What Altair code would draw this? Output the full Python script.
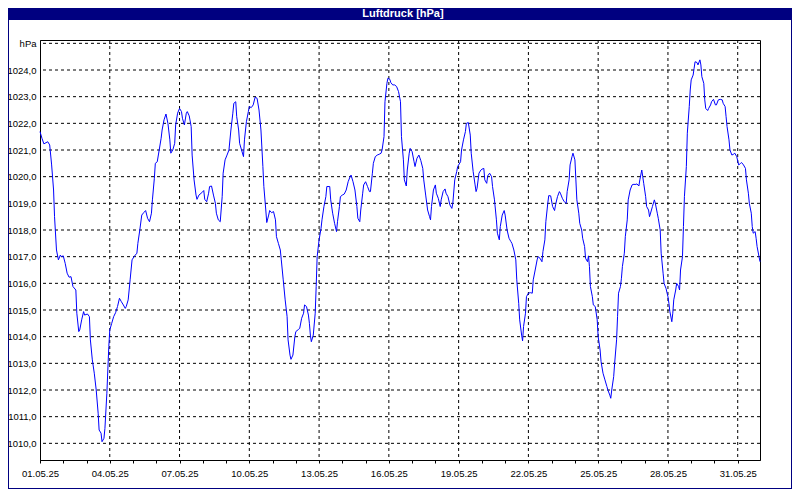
import altair as alt
import pandas as pd

# ---------------- data (hours since 01.05.2025 00:00, pressure in hPa) ----------------
hours_a = [0, 2, 4, 8, 10, 12, 14, 15, 17, 19, 21, 22, 24, 26, 28, 30, 32, 34, 37, 38,
           40, 41, 43, 45, 46, 49, 51, 52, 54, 56, 58, 60, 61, 63, 64, 66, 67, 69, 71, 72,
           74, 76, 78, 80, 82, 84, 86, 88, 89, 91, 93, 95, 97, 100, 101, 103, 105, 107, 109, 111,
           113, 115, 116, 118, 119, 121, 123, 125, 126, 128, 130, 132, 134, 135, 137, 139, 140, 142, 144, 146,
           147, 149, 151, 152, 154, 156, 157, 159, 161, 162, 164, 167, 169, 170, 172, 174, 175, 177, 179, 181,
           182, 184, 186]
hpa_a = [1021.69, 1021.44, 1021.23, 1021.31, 1021.19, 1020.44, 1019.5, 1018.5, 1017.25, 1016.88,
         1017.06, 1017.0, 1017.03, 1016.75, 1016.38, 1016.23, 1016.25, 1015.88, 1015.75, 1014.88,
         1014.19, 1014.25, 1014.63, 1014.94, 1014.81, 1014.85, 1014.75, 1013.88, 1013.13, 1012.63,
         1012.0, 1011.13, 1010.5, 1010.38, 1010.06, 1010.19, 1010.56, 1011.88, 1013.63, 1014.25,
         1014.5, 1014.75, 1014.9, 1015.13, 1015.44, 1015.31, 1015.19, 1015.06, 1015.13, 1015.38,
         1016.13, 1016.88, 1017.0, 1017.13, 1017.5, 1018.0, 1018.56, 1018.65, 1018.73, 1018.44,
         1018.31, 1018.63, 1019.13, 1019.94, 1020.5, 1020.56, 1021.0, 1021.44, 1021.75, 1022.13,
         1022.35, 1022.0, 1021.38, 1020.88, 1021.0, 1021.25, 1021.94, 1022.38, 1022.56, 1022.44,
         1022.19, 1021.94, 1022.38, 1022.44, 1022.28, 1021.88, 1020.81, 1019.88, 1019.31, 1019.15,
         1019.31, 1019.4, 1019.48, 1019.15, 1019.06, 1019.38, 1019.63, 1019.65, 1019.31, 1019.0,
         1018.63, 1018.38, 1018.31]

hours_b = [188, 189, 191, 193, 195, 197, 199, 200, 202, 203, 205, 206, 208, 210, 211, 213, 215, 216, 218, 220,
           222, 224, 226, 228, 230, 231, 233, 234, 236, 237, 239, 241, 243, 244, 246, 248, 249, 251, 253, 255,
           256, 258, 259, 261, 263, 264, 267, 268, 270, 272, 273, 275, 277, 278, 279, 280, 282, 284, 285, 286,
           288, 290, 291, 293, 295, 296, 299, 300, 302, 304, 306, 307, 309, 310, 312, 314, 316, 318, 320, 321,
           323, 325, 327, 328, 330, 331, 333, 334, 336, 338, 340, 341, 343, 344, 346, 348, 350, 352, 353, 355,
           356, 358, 359, 361, 362, 364, 366, 368, 370, 372]
hpa_b = [1019.25, 1020.13, 1020.63, 1020.81, 1021.0, 1021.75, 1022.38, 1022.75, 1022.81, 1022.25,
         1021.75, 1021.25, 1021.0, 1020.75, 1021.38, 1022.06, 1022.44, 1022.63, 1022.59, 1022.69,
         1022.98, 1022.94, 1022.5, 1021.75, 1020.38, 1019.63, 1018.75, 1018.28, 1018.56, 1018.73,
         1018.65, 1018.69, 1018.38, 1017.75, 1017.5, 1017.25, 1016.88, 1016.13, 1015.38, 1014.75,
         1013.88, 1013.31, 1013.15, 1013.31, 1014.0, 1014.19, 1014.28, 1014.31, 1014.69, 1014.88,
         1015.19, 1015.13, 1014.81, 1014.5, 1014.06, 1013.81, 1014.06, 1014.88, 1015.88, 1017.0,
         1017.63, 1018.06, 1018.38, 1018.88, 1019.25, 1019.63, 1019.63, 1019.13, 1018.63, 1018.25,
         1017.94, 1018.31, 1018.88, 1019.25, 1019.31, 1019.35, 1019.5, 1019.81, 1020.0, 1020.06,
         1019.81, 1019.5, 1018.88, 1018.44, 1018.31, 1018.75, 1019.38, 1019.69, 1019.81, 1019.63,
         1019.44, 1019.44, 1020.13, 1020.5, 1020.75, 1020.81, 1020.84, 1020.88, 1021.0, 1021.5,
         1022.81, 1023.5, 1023.69, 1023.65, 1023.53, 1023.44, 1023.44, 1023.38, 1023.19, 1022.81]

hours_c = [373, 375, 376, 378, 379, 381, 382, 384, 386, 387, 389, 391, 393, 395, 396, 398, 400, 402, 403, 404,
           406, 408, 409, 411, 413, 414, 416, 418, 419, 421, 423, 425, 426, 428, 430, 431, 434, 435, 437, 439,
           440, 442, 444, 445, 447, 449, 450, 451, 453, 455, 456, 458, 459, 461, 462, 464, 466, 467, 469, 471,
           472, 474, 475, 477, 479, 480, 482, 484, 486, 487, 489, 491, 492, 494, 495, 497, 498, 499, 501, 502,
           504, 506, 508, 509, 511, 513, 514, 516, 518, 519, 521, 522, 524, 525, 527, 529, 531, 532, 534, 536,
           537, 539, 541, 543, 544, 546, 547, 549, 550, 552, 553, 554, 556, 557]
hpa_c = [1021.5, 1020.63, 1019.88, 1019.65, 1020.25, 1020.88, 1021.06, 1020.94, 1020.56, 1020.38,
         1020.69, 1020.81, 1020.6, 1020.31, 1019.88, 1019.31, 1018.75, 1018.5, 1018.38, 1018.88,
         1019.5, 1019.69, 1019.38, 1019.19, 1018.88, 1019.13, 1019.44, 1019.54, 1019.38, 1019.25,
         1018.94, 1018.81, 1019.0, 1019.88, 1020.19, 1020.38, 1020.56, 1021.0, 1021.38, 1021.69,
         1022.0, 1022.03, 1021.56, 1020.88, 1020.19, 1019.69, 1019.44, 1019.56, 1020.13, 1020.25,
         1020.28, 1020.31, 1019.88, 1019.75, 1020.03, 1020.13, 1020.0, 1019.63, 1019.13, 1018.38,
         1017.88, 1017.63, 1018.13, 1018.56, 1018.73, 1018.56, 1018.0, 1017.69, 1017.56, 1017.5,
         1017.25, 1016.88, 1016.13, 1015.25, 1014.63, 1014.06, 1013.84, 1014.38, 1014.88, 1015.5,
         1015.63, 1015.65, 1015.63, 1016.13, 1016.5, 1016.88, 1017.0, 1016.94, 1016.81, 1017.19,
         1017.63, 1018.31, 1019.0, 1019.29, 1019.28, 1018.88, 1018.73, 1018.94, 1019.25, 1019.44,
         1019.38, 1019.19, 1019.06, 1019.0, 1019.44, 1019.88, 1020.44, 1020.75, 1020.88, 1020.63,
         1019.88, 1019.13, 1018.63, 1018.25]

hours_d = [559, 560, 562, 563, 565, 566, 567, 568, 570, 571, 573, 575, 576, 578, 579, 581, 583, 585, 586, 588,
           589, 590, 592, 593, 595, 596, 597, 599, 600, 601, 603, 604, 606, 607, 609, 611, 612, 615, 616, 618,
           619, 621, 622, 623, 625, 626, 628, 629, 631, 632, 634, 635, 637, 638, 640, 641, 643, 644, 646, 648,
           649, 650, 652, 653, 654, 656, 657, 659, 660, 661, 663, 664, 665, 667, 668, 670, 671, 672, 674, 675,
           676, 678, 679, 681, 682, 683, 685, 686, 687, 689, 690, 692, 693, 695, 697, 698, 700, 702, 704, 705,
           707, 708, 709, 711, 712, 714, 716, 717, 719, 721, 723, 724, 726, 728, 729, 731, 732, 734, 735, 736,
           738, 739, 740, 742, 743]
hpa_d = [1018.0, 1017.69, 1017.38, 1016.94, 1016.81, 1017.03, 1016.63, 1015.88, 1015.5, 1015.19,
         1015.13, 1014.63, 1014.0, 1013.5, 1013.06, 1012.63, 1012.38, 1012.13, 1012.0, 1011.81,
         1011.69, 1012.0, 1012.5, 1013.0, 1013.88, 1014.75, 1015.63, 1015.88, 1016.19, 1016.63,
         1017.13, 1017.75, 1018.38, 1019.13, 1019.5, 1019.69, 1019.71, 1019.71, 1019.73, 1019.65,
         1019.88, 1020.25, 1020.0, 1019.75, 1019.25, 1018.88, 1018.75, 1018.5, 1018.75, 1018.88,
         1019.13, 1019.0, 1018.63, 1018.44, 1018.0, 1017.13, 1016.38, 1016.0, 1015.81, 1015.5,
         1015.25, 1014.94, 1014.56, 1014.88, 1015.38, 1015.75, 1016.0, 1015.88, 1015.75, 1016.5,
         1017.0, 1018.13, 1019.25, 1020.38, 1021.63, 1022.63, 1023.25, 1023.63, 1023.81, 1024.06,
         1024.31, 1024.28, 1024.19, 1024.38, 1024.19, 1023.75, 1023.5, 1022.88, 1022.56, 1022.48,
         1022.56, 1022.69, 1022.81, 1022.9, 1022.69, 1022.69, 1022.88, 1022.9, 1022.88, 1022.75,
         1022.63, 1022.25, 1021.88, 1021.38, 1021.0, 1020.81, 1020.85, 1020.88, 1020.75, 1020.44,
         1020.5, 1020.53, 1020.44, 1020.31, 1019.88, 1019.38, 1019.0, 1018.63, 1018.13, 1017.88,
         1017.94, 1017.69, 1017.38, 1017.0, 1016.81]

title_text = "Luftdruck [hPa]"
y_ticks = list(range(1010, 1026))          # 1010 ... 1025 (top one labelled "hPa")
grid_days = [4, 7, 10, 13, 16, 19, 22, 25, 28, 31]
tick_days = list(range(1, 32))

# ---------------- build tables ----------------
hours = hours_a + hours_b + hours_c + hours_d
hpa = hpa_a + hpa_b + hpa_c + hpa_d
start = pd.Timestamp("2025-05-01 00:00")
df = pd.DataFrame({
    "zeit": start + pd.to_timedelta(hours, unit="h"),
    "hpa": hpa,
    "idx": range(len(hours)),
})
grid_x = pd.DataFrame({"zeit": [pd.Timestamp(2025, 5, d) for d in grid_days]})
grid_y = pd.DataFrame({"v": y_ticks})
one = pd.DataFrame({"a": [0]})

NAVY = "#000080"
FONT = "Liberation Sans"

x_scale = alt.Scale(domain=[alt.DateTime(year=2025, month=5, date=1, hours=0),
                            alt.DateTime(year=2025, month=5, date=31, hours=23)])
y_scale = alt.Scale(domain=[1009.375, 1025.125], nice=False, zero=False)

x_axis = alt.Axis(
    values=[alt.DateTime(year=2025, month=5, date=d) for d in tick_days],
    labelExpr="(date(datum.value) - 1) % 3 == 0 ? timeFormat(datum.value, '%d.%m.%y') : ''",
    grid=False, ticks=True, tickSize=3, tickColor="black", domainColor="black",
    labelFont=FONT, labelFontSize=9.5, labelColor="black", labelPadding=5,
    labelAngle=0, labelOverlap=False, labelFlush=False, title=None,
)
y_axis = alt.Axis(
    values=y_ticks,
    labelExpr="datum.value == 1025 ? 'hPa' : replace(format(datum.value, '.1f'), '.', ',')",
    grid=False, ticks=False, domainColor="black", labelPadding=4,
    labelFont=FONT, labelFontSize=9.5, labelColor="black", title=None,
)

vgrid = alt.Chart(grid_x).mark_rule(color="black", strokeDash=[3, 3], strokeWidth=1).encode(
    x=alt.X("zeit:T", scale=x_scale, axis=x_axis)
)
hgrid = alt.Chart(grid_y).mark_rule(color="black", strokeDash=[3, 3], strokeWidth=1).encode(
    y=alt.Y("v:Q", scale=y_scale, axis=y_axis)
)
line = alt.Chart(df).mark_line(color="#0000FF", strokeWidth=1).encode(
    x=alt.X("zeit:T", scale=x_scale, axis=x_axis),
    y=alt.Y("hpa:Q", scale=y_scale, axis=y_axis),
    order="idx:Q",
)

title_bar = alt.Chart(one).mark_rect(color=NAVY).encode(
    x=alt.value(-32), x2=alt.value(752), y=alt.value(-32), y2=alt.value(-20)
)
title = alt.Chart(one).mark_text(
    text=title_text, color="white", font=FONT, fontSize=11, fontWeight="bold",
    align="center", baseline="middle"
).encode(x=alt.value(363), y=alt.value(-26))
frame_left = alt.Chart(one).mark_rule(color=NAVY, strokeWidth=1).encode(
    x=alt.value(-31.5), y=alt.value(-32), y2=alt.value(449)
)
frame_right = alt.Chart(one).mark_rule(color=NAVY, strokeWidth=1).encode(
    x=alt.value(751.5), y=alt.value(-32), y2=alt.value(449)
)
frame_bottom = alt.Chart(one).mark_rule(color=NAVY, strokeWidth=1).encode(
    x=alt.value(-32), x2=alt.value(752), y=alt.value(448.5)
)

chart = alt.layer(
    hgrid, vgrid, line, title_bar, title, frame_left, frame_right, frame_bottom
).properties(
    width=720, height=420,
    padding={"left": 32, "top": 32, "right": 32, "bottom": 29},
    autosize=alt.AutoSizeParams(type="none"),
    background="white",
).configure_view(stroke="black", strokeWidth=1)

chart.save("out.html", embed_options={"renderer": "svg", "actions": False})
